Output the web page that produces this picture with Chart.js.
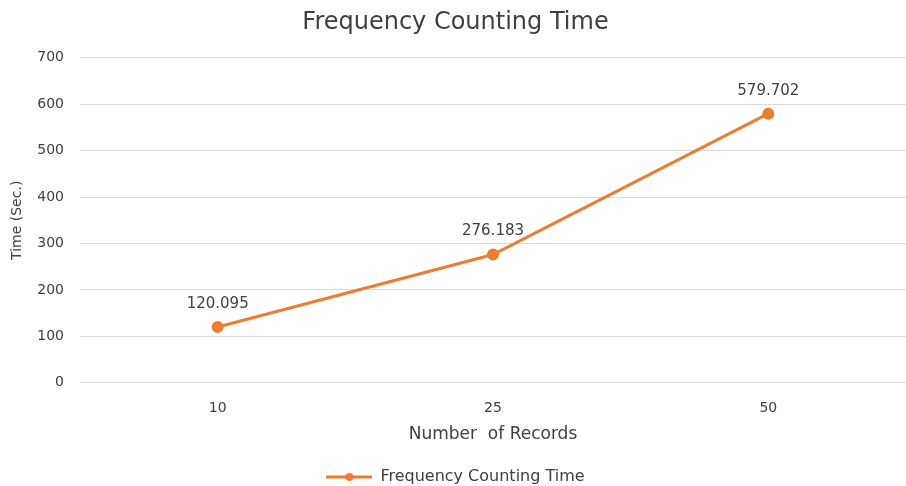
<!DOCTYPE html>
<html>
<head>
<meta charset="utf-8">
<script src="https://cdn.jsdelivr.net/npm/chart.js@4.4.1/dist/chart.umd.min.js"></script>
<style>
  html, body { margin: 0; padding: 0; background: #ffffff; }
  #wrap { width: 906px; height: 486px; position: relative; }
</style>
</head>
<body>
<div id="wrap"><canvas id="chart"></canvas></div>
<script>
// Number of records processed vs. time spent counting frequencies
const categories = ['10', '25', '50'];
const timeSeconds = [120.095, 276.183, 579.702];
const seriesName = 'Frequency Counting Time';
const yTicks = [0, 100, 200, 300, 400, 500, 600, 700];

const ORANGE = '#ED7D31';
const TEXT = '#404040';
const GRID = '#d9d9d9';
const FONT = "'DejaVu Sans', 'Open Sans', sans-serif";

// Legend marker: a short line with a dot in the middle
function legendMarker() {
  const c = document.createElement('canvas');
  c.width = 46; c.height = 10;
  const g = c.getContext('2d');
  g.strokeStyle = ORANGE;
  g.lineWidth = 3;
  g.beginPath(); g.moveTo(0, 5); g.lineTo(46, 5); g.stroke();
  g.fillStyle = ORANGE;
  g.beginPath(); g.arc(23, 5, 4, 0, Math.PI * 2); g.fill();
  return c;
}
const marker = legendMarker();

// Value labels above each point
const valueLabels = {
  id: 'valueLabels',
  afterDatasetsDraw(chart) {
    const ctx = chart.ctx;
    const meta = chart.getDatasetMeta(0);
    const data = chart.data.datasets[0].data;
    ctx.save();
    ctx.font = '15px ' + FONT;
    ctx.fillStyle = TEXT;
    ctx.textAlign = 'center';
    ctx.textBaseline = 'middle';
    meta.data.forEach((pt, i) => {
      ctx.fillText(String(data[i]), pt.x, pt.y - 23);
    });
    ctx.restore();
  }
};

new Chart(document.getElementById('chart'), {
  type: 'line',
  data: {
    labels: categories,
    datasets: [{
      label: seriesName,
      data: timeSeconds,
      borderColor: ORANGE,
      backgroundColor: ORANGE,
      borderWidth: 3,
      pointRadius: 4.5,
      pointHoverRadius: 4.5,
      pointBackgroundColor: ORANGE,
      pointBorderColor: ORANGE,
      pointStyle: 'circle',
      tension: 0,
      fill: false
    }]
  },
  options: {
    responsive: true,
    maintainAspectRatio: false,
    animation: false,
    events: [],
    // the legend reserves 10px below itself; let it sit lower
    layout: { autoPadding: false, padding: { left: 5, right: 0, top: 0, bottom: -9 } },
    plugins: {
      title: {
        display: true,
        text: seriesName,
        color: TEXT,
        font: { family: FONT, size: 24, weight: 'normal' },
        padding: { top: 8, bottom: 21 }
      },
      legend: {
        display: true,
        position: 'bottom',
        labels: {
          color: TEXT,
          font: { family: FONT, size: 16 },
          usePointStyle: true,
          pointStyleWidth: 46,
          padding: 0,
          generateLabels: (chart) => [{
            text: seriesName,
            pointStyle: marker,
            fillStyle: ORANGE,
            strokeStyle: ORANGE,
            lineWidth: 0,
            datasetIndex: 0,
            fontColor: TEXT
          }]
        }
      },
      tooltip: { enabled: false }
    },
    scales: {
      x: {
        type: 'category',
        offset: true,
        afterFit: (axis) => { axis.paddingLeft = 0; axis.paddingRight = 0; },
        // transparent tick marks only push the labels down
        grid: { display: true, drawOnChartArea: false, drawTicks: true, tickLength: 15, color: 'rgba(0,0,0,0)' },
        border: { display: false },
        ticks: { color: TEXT, font: { family: FONT, size: 14 }, padding: 2 },
        title: {
          display: true,
          text: 'Number  of Records',
          color: TEXT,
          font: { family: FONT, size: 17 },
          padding: { top: 6, bottom: 24 }
        }
      },
      y: {
        min: 0,
        max: 700,
        afterBuildTicks: (axis) => { axis.ticks = yTicks.map(v => ({ value: v })); },
        afterFit: (axis) => { axis.width = 75; },
        grid: { color: GRID, lineWidth: 1, drawTicks: false },
        border: { display: false },
        ticks: { color: TEXT, font: { family: FONT, size: 14 }, padding: 16 },
        title: {
          display: true,
          text: 'Time (Sec.)',
          color: TEXT,
          font: { family: FONT, size: 14 },
          padding: { top: 4, bottom: 4 }
        }
      }
    }
  },
  plugins: [valueLabels]
});
</script>
</body>
</html>
